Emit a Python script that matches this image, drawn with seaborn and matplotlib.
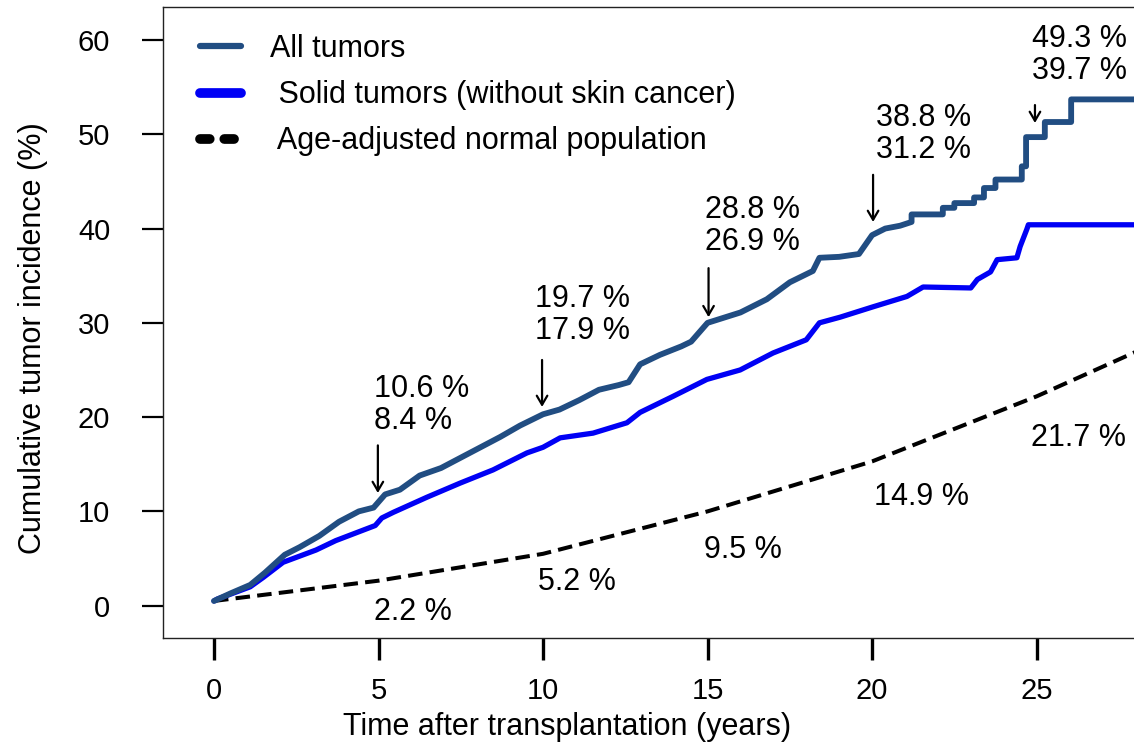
import matplotlib
matplotlib.use("Agg")
import matplotlib.pyplot as plt
from matplotlib.lines import Line2D
import seaborn as sns
import pandas as pd

# ---------------- data ----------------
all_t = [0, 0.5, 1.1, 1.55, 2.15, 2.6, 3.2, 3.8, 4.4, 4.85, 5.2, 5.65, 6.25, 6.9, 7.5,
         8.1, 8.7, 9.3, 10.0, 10.5, 11.1, 11.7, 12.3, 12.6, 12.95, 13.55, 14.2, 14.5,
         15.0, 16.0, 16.8, 17.5, 18.2, 18.4, 19.0, 19.6, 20.0, 20.4, 20.85, 21.2, 21.2,
         22.15, 22.15, 22.5, 22.5, 23.1, 23.1, 23.4, 23.4, 23.75, 23.75, 24.55, 24.55,
         24.68, 24.68, 25.25, 25.25, 26.05, 26.05, 28.0]
all_v = [0.5, 1.3, 2.2, 3.5, 5.4, 6.2, 7.4, 8.9, 10.0, 10.4, 11.8, 12.3, 13.8, 14.6, 15.7,
         16.8, 17.9, 19.1, 20.3, 20.8, 21.8, 22.9, 23.4, 23.7, 25.6, 26.6, 27.5, 28.0,
         30.0, 31.1, 32.5, 34.3, 35.5, 36.9, 37.0, 37.3, 39.3, 40.0, 40.3, 40.7, 41.5,
         41.5, 42.2, 42.2, 42.7, 42.7, 43.3, 43.3, 44.3, 44.3, 45.2, 45.2, 46.6,
         46.6, 49.7, 49.7, 51.3, 51.3, 53.7, 53.7]

solid_t = [0, 0.1, 1.1, 1.5, 2.1, 3.1, 3.7, 4.9, 5.1, 5.45, 6.47, 7.48, 8.48, 9.51, 10.0,
           10.52, 11.52, 12.55, 12.95, 13.95, 14.98, 15.99, 16.99, 18.0, 18.4, 19.03,
           20.03, 21.06, 21.55, 23.0, 23.2, 23.6, 23.8, 24.4, 24.5, 24.7, 24.75, 28.0]
solid_v = [0.5, 0.7, 2.0, 3.0, 4.6, 5.9, 6.9, 8.5, 9.3, 9.9, 11.5, 13.0, 14.4, 16.2, 16.8,
           17.8, 18.3, 19.4, 20.5, 22.2, 24.0, 25.0, 26.8, 28.2, 30.0, 30.6,
           31.7, 32.8, 33.8, 33.7, 34.6, 35.4, 36.7, 36.9, 38.1, 39.9, 40.4, 40.4]

norm_t = [0, 5, 10, 15, 20, 25, 28]
norm_v = [0.5, 2.65, 5.5, 10.0, 15.3, 22.2, 26.9]

arrow_x = [4.98, 9.97, 15.03, 20.03, 24.95]
arrow_top = [17.0, 26.06, 35.8, 45.7, 53.1]
arrow_tip = [11.95, 21.08, 30.6, 40.7, 51.2]
tumor_labels = ["10.6 %\n8.4 %", "19.7 %\n17.9 %", "28.8 %\n26.9 %",
                "38.8 %\n31.2 %", "49.3 %\n39.7 %"]
tumor_label_x = [4.86, 9.76, 14.92, 20.12, 24.86]
tumor_label_y = [21.3, 30.8, 40.3, 50.0, 58.4]

norm_labels = ["2.2 %", "5.2 %", "9.5 %", "14.9 %", "21.7 %"]
norm_label_x = [4.86, 9.85, 14.9, 20.06, 24.83]
norm_label_y = [-0.67, 2.5, 5.9, 11.5, 17.8]

series_names = ["All tumors", " Solid tumors (without skin cancer)",
                " Age-adjusted normal population"]
x_ticks = [0, 5, 10, 15, 20, 25]
y_ticks = [0, 10, 20, 30, 40, 50, 60]

# ---------------- style ----------------
sns.set_style("white")
plt.rcParams["font.family"] = ["Liberation Sans", "DejaVu Sans"]
for k in ["text.color", "axes.labelcolor", "xtick.color", "ytick.color"]:
    plt.rcParams[k] = "black"

FS = 22
FS_TICK = 21
C_ALL = "#214d82"
C_SOLID = "#0000f5"

fig = plt.figure(figsize=(11.34, 7.42), dpi=100)
W, H = 1134, 742
ax = fig.add_axes([163 / W, 104 / H, 1 - 163 / W, 631 / H])

df_all = pd.DataFrame({"t": all_t, "v": all_v})
df_solid = pd.DataFrame({"t": solid_t, "v": solid_v})
df_norm = pd.DataFrame({"t": norm_t, "v": norm_v})

sns.lineplot(data=df_norm, x="t", y="v", ax=ax, estimator=None, sort=False,
             color="black", lw=2.9, linestyle=(0, (3.6, 1.8)), legend=False)
sns.lineplot(data=df_solid, x="t", y="v", ax=ax, estimator=None, sort=False,
             color=C_SOLID, lw=3.8, legend=False, solid_capstyle="round")
sns.lineplot(data=df_all, x="t", y="v", ax=ax, estimator=None, sort=False,
             color=C_ALL, lw=4.2, legend=False)

ax.set_xlim(-1.55, 27.96)
ax.set_ylim(-3.43, 63.5)
ax.set_xticks(x_ticks)
ax.set_yticks(y_ticks)
ax.tick_params(axis="x", direction="out", length=16, width=2.4, pad=12,
               labelsize=FS_TICK, color="black", bottom=True)
ax.tick_params(axis="y", direction="out", length=15, width=1.6, pad=23,
               labelsize=FS_TICK, color="black", left=True)

for s in ["left", "top", "bottom"]:
    ax.spines[s].set_linewidth(1.0)
    ax.spines[s].set_color("#222222")
ax.spines["right"].set_visible(False)

ax.set_xlabel("Time after transplantation (years)", fontsize=FS)
ax.xaxis.set_label_coords((567 - 163) / 971, -0.117)
ax.set_ylabel("Cumulative tumor incidence (%)", fontsize=FS)
ax.yaxis.set_label_coords(-0.118, 0.475)

# arrows
for x, y0, y1 in zip(arrow_x, arrow_top, arrow_tip):
    ax.annotate("", xy=(x, y1), xytext=(x, y0),
                arrowprops=dict(arrowstyle="->,head_length=0.65,head_width=0.38",
                                lw=1.6, color="black", shrinkA=0, shrinkB=0,
                                mutation_scale=10))

for x, y, s in zip(tumor_label_x, tumor_label_y, tumor_labels):
    ax.text(x, y, s, fontsize=FS, ha="left", va="center", linespacing=1.08)
for x, y, s in zip(norm_label_x, norm_label_y, norm_labels):
    ax.text(x, y, s, fontsize=FS, ha="left", va="center")

handles = [
    Line2D([], [], color=C_ALL, lw=4.5),
    Line2D([], [], color=C_SOLID, lw=7, solid_capstyle="round"),
    Line2D([], [], color="black", lw=7, linestyle=(0, (1.0, 1.5)),
           dash_capstyle="round"),
]
ax.legend(handles, series_names, loc="upper left",
          bbox_to_anchor=((200 - 163) / 971, (638 - 34) / 631),
          frameon=False, fontsize=FS, handlelength=1.35, handletextpad=0.95,
          labelspacing=0.53, borderpad=0, borderaxespad=0)

fig.savefig("out.png", dpi=100)
